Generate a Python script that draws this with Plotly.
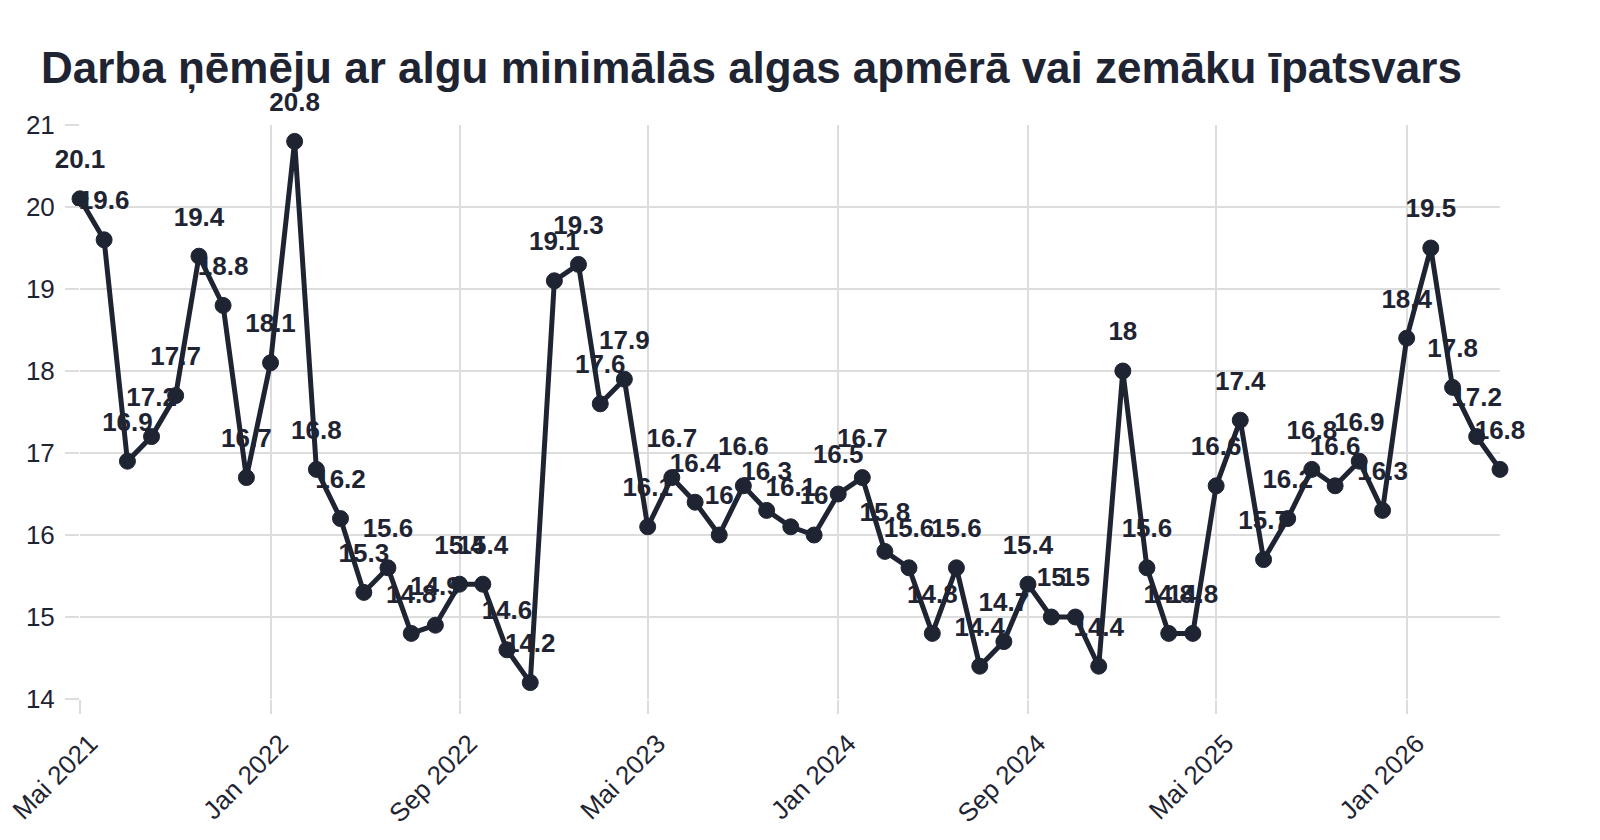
import plotly.graph_objects as go
import pandas as pd

title_text = "Darba ņēmēju ar algu minimālās algas apmērā vai zemāku īpatsvars"

months = pd.date_range("2021-05-01", "2026-05-01", freq="MS")

values = [
    20.1, 19.6, 16.9, 17.2, 17.7, 19.4, 18.8, 16.7,          # May-Dec 2021
    18.1, 20.8, 16.8, 16.2, 15.3, 15.6, 14.8, 14.9, 15.4, 15.4, 14.6, 14.2,  # 2022
    19.1, 19.3, 17.6, 17.9, 16.1, 16.7, 16.4, 16.0, 16.6, 16.3, 16.1, 16.0,  # 2023
    16.5, 16.7, 15.8, 15.6, 14.8, 15.6, 14.4, 14.7, 15.4, 15.0, 15.0, 14.4,  # 2024
    18.0, 15.6, 14.8, 14.8, 16.6, 17.4, 15.7, 16.2, 16.8, 16.6, 16.9, 16.3,  # 2025
    18.4, 19.5, 17.8, 17.2, 16.8,                                            # Jan-May 2026
]

tick_dates = ["2021-05-01", "2022-01-01", "2022-09-01", "2023-05-01",
              "2024-01-01", "2024-09-01", "2025-05-01", "2026-01-01"]
tick_labels = ["Mai 2021", "Jan 2022", "Sep 2022", "Mai 2023",
               "Jan 2024", "Sep 2024", "Mai 2025", "Jan 2026"]

y_ticks = [14, 15, 16, 17, 18, 19, 20, 21]

ink = "#1f2433"
grid = "#dddddd"
font_family = "Liberation Sans, Arial, sans-serif"

labels = [f"{v:g}" for v in values]

fig = go.Figure()
# text layer (drawn below the line and markers); invisible markers set the label offset
fig.add_trace(go.Scatter(
    x=months, y=values, mode="markers+text", text=labels,
    textposition="top center",
    marker=dict(size=37, opacity=0),
    textfont=dict(family=font_family, size=26, color=ink, weight="bold"),
    cliponaxis=False, showlegend=False, hoverinfo="skip",
))
fig.add_trace(go.Scatter(
    x=months, y=values, mode="lines+markers",
    line=dict(color=ink, width=5),
    marker=dict(color=ink, size=16, line=dict(color=ink, width=1)),
    cliponaxis=False, showlegend=False,
))

fig.update_layout(
    width=1600, height=840, autosize=False,
    margin=dict(l=80, r=100, t=125, b=141),
    paper_bgcolor="white", plot_bgcolor="white",
    title=dict(text=f"<b>{title_text}</b>", x=41/1600, xanchor="left", xref="container",
               y=1 - 68/840, yanchor="middle", yref="container",
               font=dict(family=font_family, size=44, color=ink)),
    font=dict(family=font_family, color=ink),
)
fig.update_xaxes(
    type="date", range=[months[0], months[-1]],
    tickvals=tick_dates, ticktext=tick_labels, tickangle=-45,
    showgrid=True, gridcolor=grid, gridwidth=2,
    ticks="outside", ticklen=14, tickcolor=grid, tickwidth=2,
    tickfont=dict(family=font_family, size=26, color=ink),
    ticklabeloverflow="allow", ticklabelshift=10, ticklabelstandoff=4,
    showline=False, zeroline=False, automargin=False,
)
fig.update_yaxes(
    range=[14, 21], tickvals=y_ticks,
    showgrid=True, gridcolor=grid, gridwidth=2,
    ticks="outside", ticklen=14, tickcolor=grid, tickwidth=2,
    tickfont=dict(family=font_family, size=26, color=ink),
    ticklabelstandoff=5,
    showline=False, zeroline=False, automargin=False,
)

fig.write_html("out.html")
